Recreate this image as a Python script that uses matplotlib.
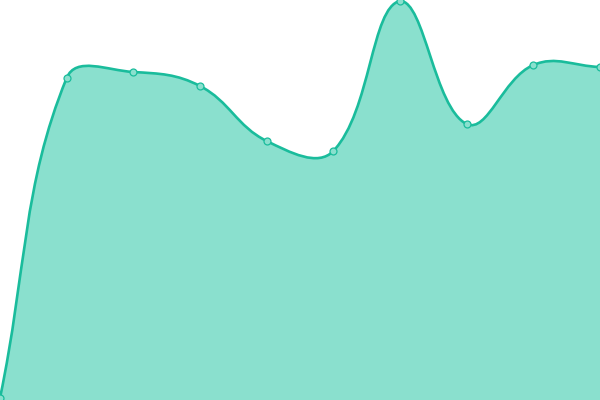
import matplotlib
matplotlib.use("Agg")
import matplotlib.pyplot as plt
from matplotlib.path import Path
from matplotlib.patches import PathPatch
import numpy as np

# values (axis 0..400, one unit = one pixel)
labels = ["0", "1", "2", "3", "4", "5", "6", "7", "8", "9"]
values = [2, 322, 328, 314, 259, 249, 399, 276, 335, 333]

line_color = "#1abc9c"
fill_color = "#8ae0ce"
tension = 0.4


def spline_points(xs, ys, t):
    """Control points like chart.js splineCurve"""
    n = len(xs)
    verts = [(xs[0], ys[0])]
    codes = [Path.MOVETO]
    cps = []
    for i in range(n):
        p = np.array([xs[max(i - 1, 0)], ys[max(i - 1, 0)]])
        c = np.array([xs[i], ys[i]])
        nx = np.array([xs[min(i + 1, n - 1)], ys[min(i + 1, n - 1)]])
        d01 = np.hypot(*(c - p))
        d12 = np.hypot(*(nx - c))
        tot = d01 + d12
        s01 = d01 / tot if tot else 0
        s12 = d12 / tot if tot else 0
        prev_cp = c - t * s01 * (nx - p)
        next_cp = c + t * s12 * (nx - p)
        prev_cp[1] = np.clip(prev_cp[1], 0, 400)
        next_cp[1] = np.clip(next_cp[1], 0, 400)
        cps.append((prev_cp, next_cp))
    for i in range(1, n):
        verts += [tuple(cps[i - 1][1]), tuple(cps[i][0]), (xs[i], ys[i])]
        codes += [Path.CURVE4] * 3
    return verts, codes


fig = plt.figure(figsize=(6, 4), dpi=100)
ax = fig.add_axes([0, 0, 1, 1])
xs = np.linspace(0, 600, len(values))
ys = np.array(values, dtype=float)

verts, codes = spline_points(xs, ys, tension)

fill_verts = verts + [(xs[-1], 0), (xs[0], 0), (xs[0], ys[0])]
fill_codes = codes + [Path.LINETO, Path.LINETO, Path.CLOSEPOLY]
ax.add_patch(PathPatch(Path(fill_verts, fill_codes), facecolor=fill_color,
                       edgecolor="none", zorder=1))
ax.add_patch(PathPatch(Path(verts, codes), facecolor="none",
                       edgecolor=line_color, linewidth=1.9, zorder=2))
ax.plot(xs, ys, "o", markersize=5, markerfacecolor=fill_color,
        markeredgecolor=line_color, markeredgewidth=0.9, zorder=3, clip_on=False)

ax.set_xlim(0, 600)
ax.set_ylim(0, 400)
ax.axis("off")
fig.savefig("out.png", dpi=100)
